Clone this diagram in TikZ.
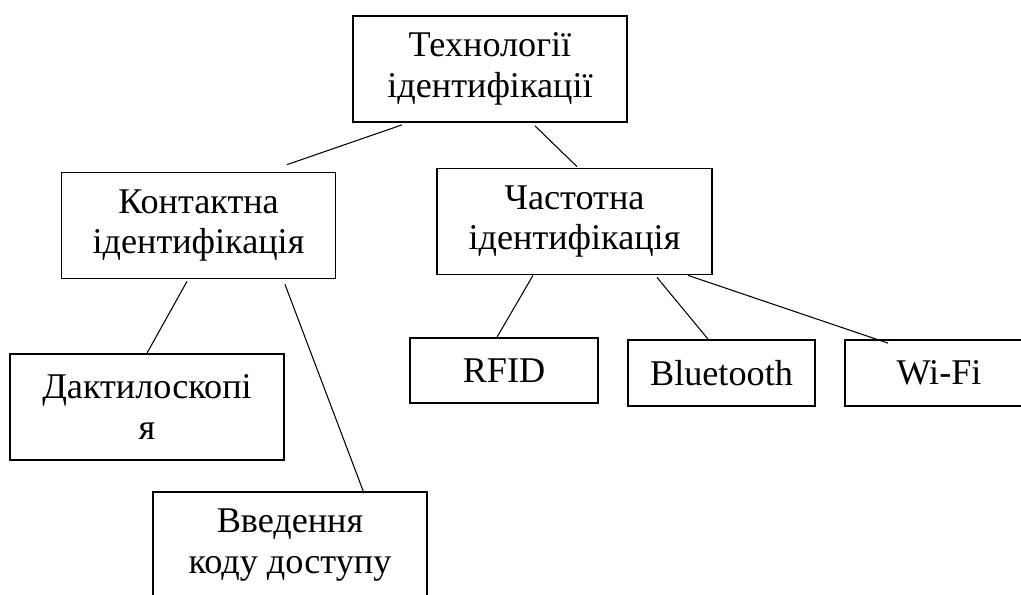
\documentclass[tikz,border=0pt]{standalone}
\usepackage{fontspec}
\setmainfont{Liberation Serif}
\usetikzlibrary{shapes, arrows.meta, positioning}

\begin{document}
\begin{tikzpicture}
[x=0.02cm, y=-0.02cm,
block/.style={rectangle, draw=black, line width=1pt, align=center,
              inner sep=0pt, font=\fontsize{20.6}{23.3}\selectfont},
groupbox/.style={block, minimum width=5.48cm, minimum height=2.12cm,
                 execute at begin node={\rule{0pt}{0.68cm}}},
tagbox/.style={block, minimum width=3.76cm, minimum height=1.32cm},
branch/.style={draw=black, line width=0.6pt}
]

    \useasboundingbox (0,0) rectangle (1021,595);
    \node[groupbox] (tech) at (490,69) {Технології\\ідентифікації};
    \node[groupbox] (contact) at (198.5,225.5) {Контактна\\ідентифікація};
    \node[groupbox, minimum width=5.5cm] (freq) at (574.5,221.5) {Частотна\\ідентифікація};
    \node[groupbox] (dakt) at (147,407) {Дактилоскопі\\я};
    \node[groupbox] (code) at (290,545) {Введення\\коду доступу};
    \node[tagbox, minimum height=1.3cm] (rfid) at (504,370.5) {RFID};
    \node[tagbox, minimum width=3.74cm] (bt) at (721.5,373) {Bluetooth};
    \node[tagbox] (wifi) at (939,373) {Wi-Fi};
    \draw[branch] ([xshift=-1.76cm, yshift=-0.04cm]tech.south) -- ([xshift=1.77cm, yshift=0.14cm]contact.north);
    \draw[branch] ([xshift=0.9cm, yshift=-0.06cm]tech.south) -- ([xshift=0.05cm, yshift=0.02cm]freq.north);
    \draw[branch] ([xshift=-0.23cm, yshift=-0.04cm]contact.south) -- (dakt.north);
    \draw[branch] ([xshift=1.73cm, yshift=-0.1cm]contact.south) -- ([xshift=1.48cm, yshift=-0.04cm]code.north);
    \draw[branch] ([xshift=-0.83cm]freq.south) -- ([xshift=-0.14cm]rfid.north);
    \draw[branch] ([xshift=1.65cm, yshift=-0.04cm]freq.south) -- ([xshift=-0.27cm]bt.north);
    \draw[branch] ([xshift=2.27cm]freq.south) -- ([xshift=-1.02cm, yshift=-0.08cm]wifi.north);
\end{tikzpicture}
\end{document}
